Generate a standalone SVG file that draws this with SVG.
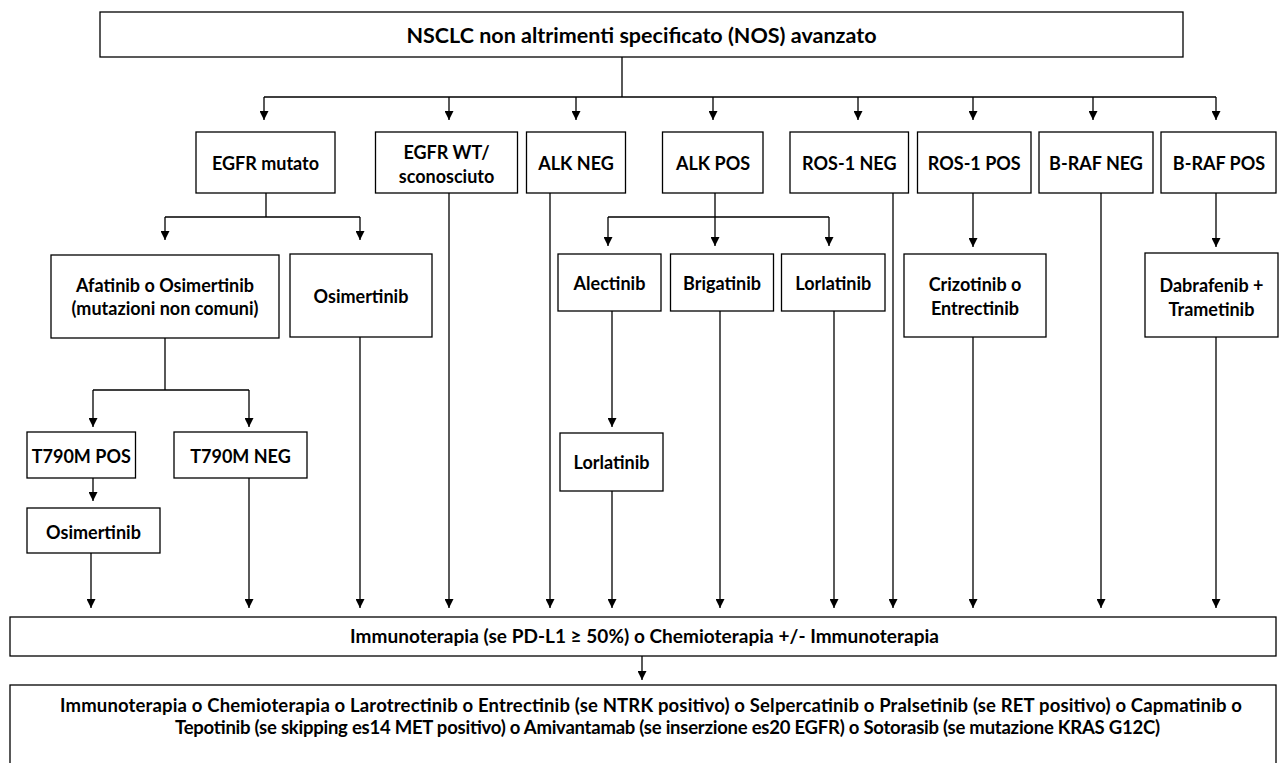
<svg xmlns="http://www.w3.org/2000/svg" width="1279" height="763" viewBox="0 0 1279 763">
<style>
.box{fill:#fff;stroke:#000;stroke-width:1.3}
.t{font-family:Lato,"Liberation Sans",sans-serif;font-weight:bold;font-size:18px;fill:#000;text-anchor:middle}
.big{font-size:21.5px}
.mid{font-size:19px}
.s{font-size:18.5px}
.ln{fill:none;stroke:#000;stroke-width:1.3}
.ar{fill:none;stroke:#000;stroke-width:1.3;marker-end:url(#ah)}
</style>
<defs>
<marker id="ah" viewBox="0 0 10 10" refX="10" refY="5" markerWidth="10" markerHeight="9" markerUnits="userSpaceOnUse" orient="auto">
<path d="M0,0 L10,5 L0,10 z" fill="#000"/>
</marker>
</defs>
<rect width="1279" height="763" fill="#fff"/>
<g id="connectors">
<path class="ln" d="M622,57 V97 M264,97 H1216"/>
<path class="ar" d="M264,97 V120"/>
<path class="ar" d="M449,97 V120"/>
<path class="ar" d="M576,97 V120"/>
<path class="ar" d="M713,97 V120"/>
<path class="ar" d="M858,97 V120"/>
<path class="ar" d="M973,97 V120"/>
<path class="ar" d="M1093,97 V120"/>
<path class="ar" d="M1216,97 V120"/>
<path class="ln" d="M266,193 V217 M165,217 H360"/>
<path class="ar" d="M165,217 V240"/>
<path class="ar" d="M360,217 V240"/>
<path class="ln" d="M715,193 V217 M608,217 H829"/>
<path class="ar" d="M608,217 V246"/>
<path class="ar" d="M715,217 V246"/>
<path class="ar" d="M829,217 V246"/>
<path class="ar" d="M973,193 V247"/>
<path class="ar" d="M1216,193 V247"/>
<path class="ln" d="M165,338 V390 M93,390 H249"/>
<path class="ar" d="M93,390 V427"/>
<path class="ar" d="M249,390 V427"/>
<path class="ar" d="M93,478 V501"/>
<path class="ar" d="M91,553 V608"/>
<path class="ar" d="M249,478 V608"/>
<path class="ar" d="M360,337 V608"/>
<path class="ar" d="M449,193 V608"/>
<path class="ar" d="M550,193 V608"/>
<path class="ar" d="M612,311 V427"/>
<path class="ar" d="M612,491 V608"/>
<path class="ar" d="M720,311 V608"/>
<path class="ar" d="M834,311 V608"/>
<path class="ar" d="M893,193 V608"/>
<path class="ar" d="M973,337 V608"/>
<path class="ar" d="M1101,193 V608"/>
<path class="ar" d="M1216,337 V608"/>
<path class="ar" d="M642,656 V680"/>
</g>
<g id="n-top"><rect class="box" x="100" y="12" width="1083" height="45"/><text class="t big" x="641.5" y="43" textLength="470" lengthAdjust="spacing">NSCLC non altrimenti specificato (NOS) avanzato</text></g>
<g id="n-egfr-mut"><rect class="box" x="196" y="132" width="139" height="61"/><text class="t" x="265.5" y="170">EGFR mutato</text></g>
<g id="n-egfr-wt"><rect class="box" x="375.5" y="132" width="142" height="61"/><text class="t" x="446.5" y="159">EGFR WT/</text><text class="t" x="446.5" y="183">sconosciuto</text></g>
<g id="n-alk-neg"><rect class="box" x="526.5" y="132" width="99" height="61"/><text class="t" x="576" y="170">ALK NEG</text></g>
<g id="n-alk-pos"><rect class="box" x="662.5" y="132" width="100.5" height="61"/><text class="t" x="713" y="170">ALK POS</text></g>
<g id="n-ros-neg"><rect class="box" x="790" y="132" width="118.5" height="61"/><text class="t" x="849.3" y="170">ROS-1 NEG</text></g>
<g id="n-ros-pos"><rect class="box" x="917.5" y="132" width="113.5" height="61"/><text class="t" x="974.3" y="170">ROS-1 POS</text></g>
<g id="n-braf-neg"><rect class="box" x="1039" y="132" width="114" height="61"/><text class="t" x="1096" y="170">B-RAF NEG</text></g>
<g id="n-braf-pos"><rect class="box" x="1161" y="132" width="115" height="61"/><text class="t" x="1219" y="170">B-RAF POS</text></g>
<g id="n-afatinib"><rect class="box" x="51" y="255" width="228" height="83"/><text class="t" x="165" y="292">Afatinib o Osimertinib</text><text class="t" x="165" y="315">(mutazioni non comuni)</text></g>
<g id="n-osimertinib1"><rect class="box" x="290" y="254" width="142" height="83"/><text class="t" x="361" y="303">Osimertinib</text></g>
<g id="n-alectinib"><rect class="box" x="558" y="254" width="103" height="57"/><text class="t" x="609.5" y="290">Alectinib</text></g>
<g id="n-brigatinib"><rect class="box" x="670.5" y="254" width="103" height="57"/><text class="t" x="722" y="290">Brigatinib</text></g>
<g id="n-lorlatinib1"><rect class="box" x="781.5" y="254" width="103.5" height="57"/><text class="t" x="833.3" y="290">Lorlatinib</text></g>
<g id="n-crizotinib"><rect class="box" x="904" y="254" width="142" height="83"/><text class="t" x="975" y="291">Crizotinib o</text><text class="t" x="975" y="315">Entrectinib</text></g>
<g id="n-dabrafenib"><rect class="box" x="1145" y="253" width="133" height="84"/><text class="t" x="1211.5" y="292">Dabrafenib +</text><text class="t" x="1211.5" y="316">Trametinib</text></g>
<g id="n-t790m-pos"><rect class="box" x="27" y="432" width="108.5" height="46"/><text class="t" x="81.3" y="463">T790M POS</text></g>
<g id="n-t790m-neg"><rect class="box" x="174" y="432" width="133" height="46"/><text class="t" x="240.5" y="463">T790M NEG</text></g>
<g id="n-lorlatinib2"><rect class="box" x="560" y="433" width="103" height="58"/><text class="t" x="611.5" y="469">Lorlatinib</text></g>
<g id="n-osimertinib2"><rect class="box" x="27" y="508" width="133" height="45"/><text class="t" x="93.5" y="539">Osimertinib</text></g>
<g id="n-middle"><rect class="box" x="10" y="617" width="1266" height="39"/><text class="t mid" x="644.5" y="643" textLength="589" lengthAdjust="spacing">Immunoterapia (se PD-L1 ≥ 50%) o Chemioterapia +/- Immunoterapia</text></g>
<g id="n-bottom"><rect class="box" x="10" y="685" width="1266" height="90"/><text class="t s" x="651" y="712" textLength="1182" lengthAdjust="spacing">Immunoterapia o Chemioterapia o Larotrectinib o Entrectinib (se NTRK positivo) o Selpercatinib o Pralsetinib (se RET positivo)  o Capmatinib o</text><text class="t s" x="667.5" y="734" textLength="985" lengthAdjust="spacing">Tepotinib (se skipping es14 MET positivo) o Amivantamab (se inserzione es20 EGFR) o Sotorasib (se mutazione KRAS G12C)</text></g>
</svg>
